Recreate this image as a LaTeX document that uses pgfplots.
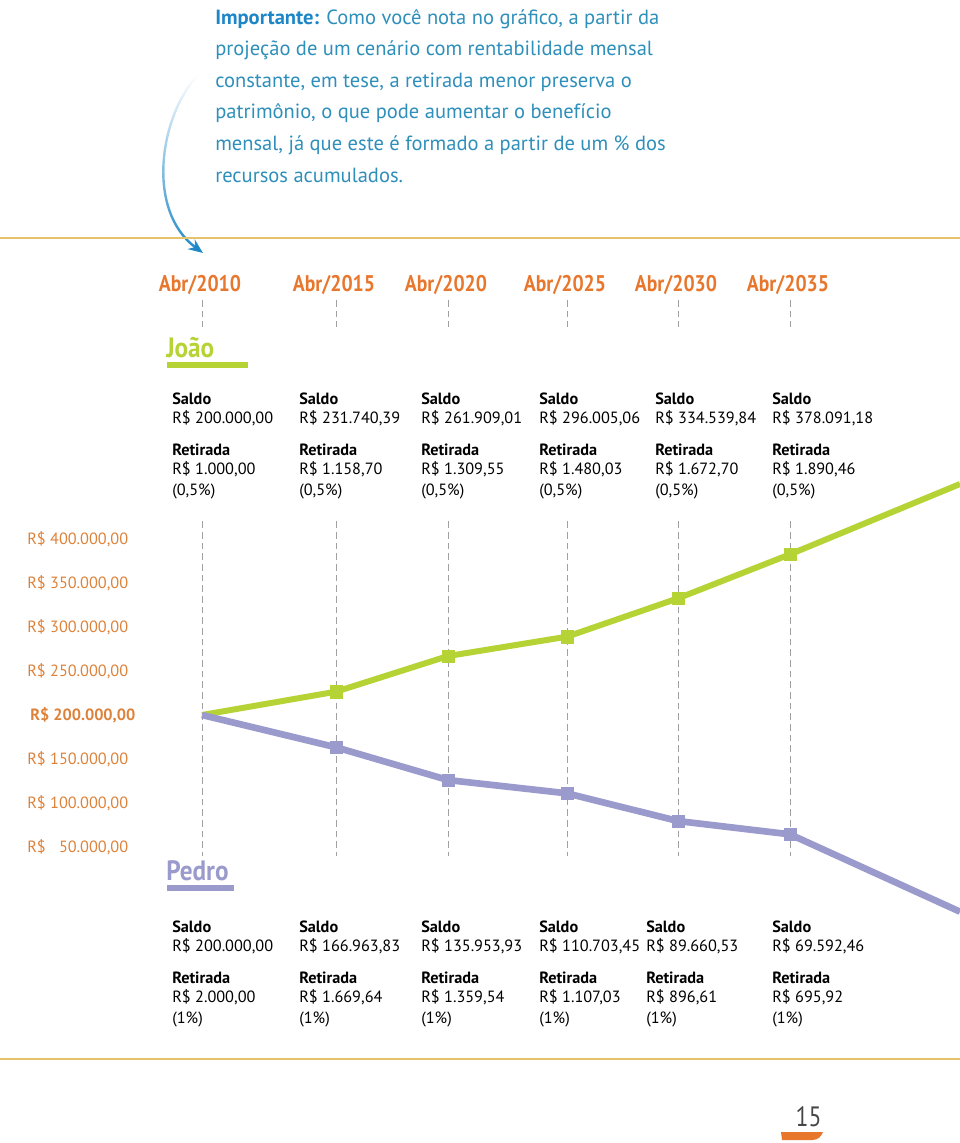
\documentclass[border=0pt]{standalone}
\usepackage{fontspec}
\setmainfont{PT Sans}
\usepackage{graphicx}
\usepackage{pgfplots}
\usepackage{pgfplotstable}
\pgfplotsset{compat=1.18}
\usetikzlibrary{arrows.meta,fadings}

\definecolor{txtblue}{HTML}{2E8FBA}
\definecolor{boldblue}{HTML}{1C86C6}
\definecolor{gold}{HTML}{E6C36B}
\definecolor{orng}{HTML}{E8772E}
\definecolor{ylab}{HTML}{DD823A}
\definecolor{joao}{HTML}{B5D334}
\definecolor{pedro}{HTML}{9A9ACC}
\definecolor{dgray}{HTML}{A0A0A0}

% pos = horizontal position of each date on the page, saldo = plotted balance (R$)
\pgfplotstableread{
pos saldo
202 200000
336 226500
448 267000
567 289000
678 332600
790 382600
960 462500
}\joaotable
\pgfplotstableread{
pos saldo
202 200000
336 163300
448 126100
567 111000
678 79500
790 64400
960 -23500
}\pedrotable

\newcommand\blk[5]{%
  \node[anchor=base west,inner sep=0,font=\fontsize{12.2}{12}\selectfont\bfseries] at (#1,#2) {Saldo};
  \node[anchor=base west,inner sep=0,font=\fontsize{12.2}{12}\selectfont] at (#1,#2+19) {R\$ #3};
  \node[anchor=base west,inner sep=0,font=\fontsize{12.2}{12}\selectfont\bfseries] at (#1,#2+51) {Retirada};
  \node[anchor=base west,inner sep=0,font=\fontsize{12.2}{12}\selectfont] at (#1,#2+70) {R\$ #4};
  \node[anchor=base west,inner sep=0,font=\fontsize{12.2}{12}\selectfont] at (#1,#2+91) {(#5)};
}
\newcommand\yr[1]{\scalebox{0.87}[1]{Abr/#1}}

\begin{document}
\begin{tikzpicture}
\begin{scope}[x=0.75pt,y=-0.75pt]
\path[use as bounding box] (0,0) rectangle (960,1143);
% top text
\begin{scope}[every node/.style={anchor=base west,inner sep=0,text=txtblue,font=\fontsize{15.4}{17}\selectfont}]
\node at (215,24) {\textcolor{boldblue}{\bfseries Importante:} Como você nota no gráfico, a partir da};
\node at (215,55.6) {projeção de um cenário com rentabilidade mensal};
\node at (215,87.2) {constante, em tese, a retirada menor preserva o};
\node at (215,118.8) {patrimônio, o que pode aumentar o benefício};
\node at (215,150.4) {mensal, já que este é formado a partir de um \% dos};
\node at (215,182) {recursos acumulados.};
\end{scope}
% arrow
\draw[boldblue,line width=1.8pt,path fading=north,-{Stealth[length=11pt,width=9pt]}] (198,75) .. controls (160,115) and (145,210) .. (203,253);
% rules
\draw[gold,line width=1.5pt] (0,238) -- (960,238);
\draw[gold,line width=1.5pt] (0,1059) -- (960,1059);
% short dashes under the dates
\foreach \xx in {202,336,448,567,678,790}
  \draw[dgray,line width=0.75pt,dash pattern=on 5pt off 3pt] (\xx,300) -- (\xx,327);
% names
\node[anchor=base west,inner sep=0,text=joao,font=\fontsize{21}{21}\selectfont\bfseries] at (166,357) {\scalebox{0.9}[1]{João}};
\fill[joao] (167,362) rectangle (248,368);
\node[anchor=base west,inner sep=0,text=pedro,font=\fontsize{21}{21}\selectfont\bfseries] at (166,880) {\scalebox{0.9}[1]{Pedro}};
\fill[pedro] (167,885) rectangle (234,891);
% blocks
\blk{172}{404}{200.000,00}{1.000,00}{0,5\%}
\blk{299}{404}{231.740,39}{1.158,70}{0,5\%}
\blk{421}{404}{261.909,01}{1.309,55}{0,5\%}
\blk{539}{404}{296.005,06}{1.480,03}{0,5\%}
\blk{655}{404}{334.539,84}{1.672,70}{0,5\%}
\blk{772}{404}{378.091,18}{1.890,46}{0,5\%}
\blk{172}{932}{200.000,00}{2.000,00}{1\%}
\blk{299}{932}{166.963,83}{1.669,64}{1\%}
\blk{421}{932}{135.953,93}{1.359,54}{1\%}
\blk{539}{932}{110.703,45}{1.107,03}{1\%}
\blk{646}{932}{89.660,53}{896,61}{1\%}
\blk{772}{932}{69.592,46}{695,92}{1\%}
% page number
\node[anchor=base,inner sep=0,text=black!72,font=\fontsize{21}{21}\selectfont] at (808.5,1126) {\scalebox{0.85}[1]{15}};
\fill[orng] (781,1132) -- (823,1132) .. controls (821,1137) and (818,1139.5) .. (813,1140) -- (782,1140) -- cycle;
\end{scope}

\begin{axis}[
  at={(97.5pt,-697.5pt)}, anchor=south west, scale only axis,
  width=622.5pt, height=345pt,
  xmin=130, xmax=960, ymin=-44318, ymax=478409,
  axis line style={draw=none}, tick style={draw=none},
  scaled y ticks=false, scaled x ticks=false,
  xtick={202,336,448,567,678,790},
  xticklabels={\yr{2010},\yr{2015},\yr{2020},\yr{2025},\yr{2030},\yr{2035}},
  xticklabel pos=upper,
  xticklabel style={anchor=base, inner sep=0pt, yshift=134.25pt, xshift=-1.5pt,
    text=orng, font=\fontsize{17}{17}\selectfont\bfseries},
  ytick={50000,100000,150000,200000,250000,300000,350000,400000},
  yticklabels={{R\$\hphantom{0} 50.000,00}, {R\$ 100.000,00}, {R\$ 150.000,00}, {\hspace{2.25pt}\bfseries R\$ 200.000,00}, {R\$ 250.000,00}, {R\$ 300.000,00}, {R\$ 350.000,00}, {R\$ 400.000,00}},
  yticklabel style={anchor=west, inner sep=0pt, xshift=-77.25pt, text=ylab,
    font=\fontsize{12.2}{12}\selectfont},
  clip=true,
]
\foreach \xx in {202,336,448,567,678,790} {
  \edef\tmp{\noexpand\draw[dgray,line width=0.75pt,dash pattern=on 5pt off 3pt] (axis cs:\xx,420000) -- (axis cs:\xx,40000);}\tmp
}
\addplot[joao, line width=4.5pt, line join=round, mark=square*, mark size=4.6pt,
  mark indices={2,3,4,5,6}, mark options={solid, line width=0.4pt, line join=miter}] table[x=pos,y=saldo]{\joaotable};
\addplot[pedro, line width=5pt, line join=round, mark=square*, mark size=4.6pt,
  mark indices={2,3,4,5,6}, mark options={solid, line width=0.4pt, line join=miter}] table[x=pos,y=saldo]{\pedrotable};
\end{axis}
\end{tikzpicture}
\end{document}
